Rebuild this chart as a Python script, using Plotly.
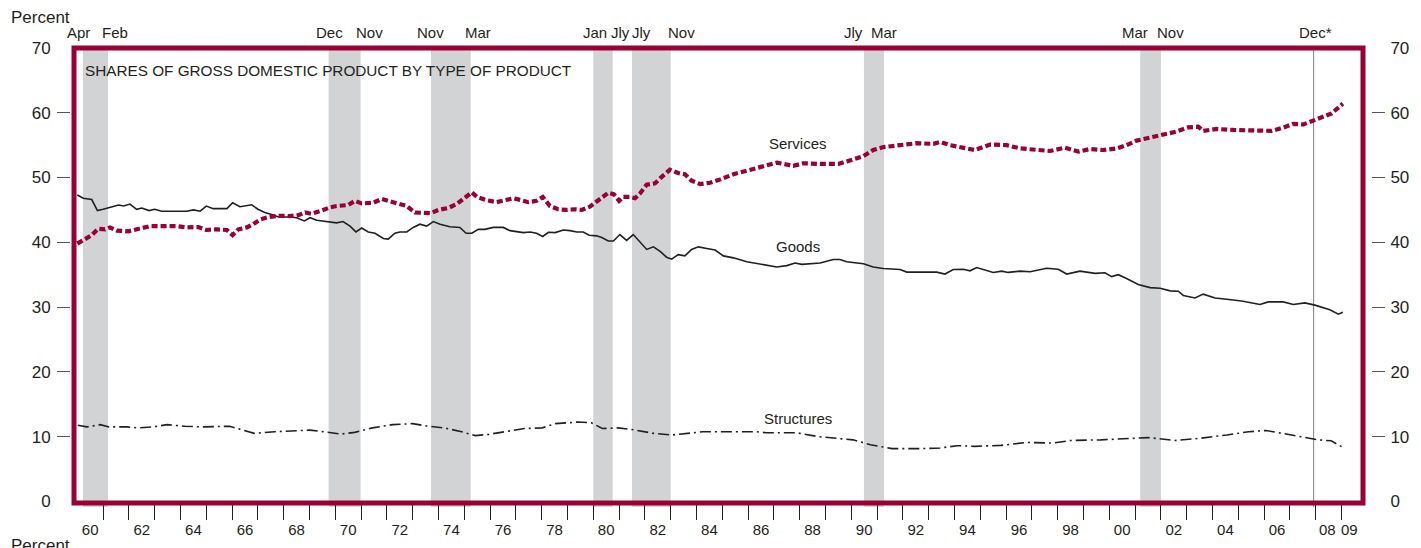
import plotly.graph_objects as go

# ---------------- data ----------------
goods_x = [1960.00, 1960.23, 1960.56, 1960.78, 1961.00, 1961.27, 1961.60, 1961.80, 1962.04, 1962.30,
           1962.50, 1962.78, 1963.00, 1963.27, 1963.60, 1963.85, 1964.24, 1964.50, 1964.76, 1965.00,
           1965.27, 1965.80, 1966.02, 1966.30, 1966.76, 1967.00, 1967.27, 1967.53, 1967.80, 1968.24,
           1968.50, 1968.80, 1969.02, 1969.28, 1969.80, 1970.05, 1970.30, 1970.57, 1970.80, 1971.02,
           1971.28, 1971.54, 1971.86, 1972.05, 1972.31, 1972.50, 1972.77, 1973.02, 1973.28, 1973.54,
           1973.80, 1974.06, 1974.44, 1974.83, 1975.07, 1975.29, 1975.54, 1975.80, 1976.12, 1976.51,
           1976.77, 1977.29, 1977.55, 1977.80, 1978.04, 1978.26, 1978.52, 1978.84, 1979.10, 1979.36,
           1979.61, 1979.84, 1980.13, 1980.33, 1980.58, 1980.78, 1981.03, 1981.29, 1981.55, 1981.81,
           1982.07, 1982.33, 1982.59, 1982.84, 1983.04, 1983.29, 1983.55, 1983.81, 1984.07, 1984.40,
           1984.72, 1985.04, 1985.43, 1985.95, 1986.46, 1987.11, 1987.50, 1987.82, 1988.08, 1988.79,
           1989.30, 1989.56, 1989.82, 1990.47, 1990.85, 1991.24, 1991.89, 1992.15, 1992.92, 1993.31,
           1993.63, 1993.95, 1994.34, 1994.60, 1994.86, 1995.50, 1995.83, 1996.08, 1996.54, 1996.93,
           1997.57, 1998.02, 1998.35, 1998.86, 1999.45, 1999.83, 2000.09, 2000.35, 2000.67, 2001.12,
           2001.58, 2001.97, 2002.36, 2002.67, 2002.87, 2003.32, 2003.64, 2004.10, 2004.55, 2005.13,
           2005.84, 2006.16, 2006.74, 2007.13, 2007.58, 2007.97, 2008.55, 2008.88, 2009.05]
goods_y = [47.3, 46.8, 46.6, 44.9, 45.1, 45.4, 45.75, 45.6, 45.9, 45.1,
           45.3, 44.9, 45.1, 44.8, 44.8, 44.7, 44.8, 45.0, 44.8, 45.6,
           45.2, 45.2, 46.1, 45.5, 45.8, 45.1, 44.6, 44.3, 43.9, 43.9,
           43.8, 43.3, 43.8, 43.4, 43.1, 43.0, 43.2, 42.5, 41.6, 42.2,
           41.6, 41.4, 40.6, 40.5, 41.4, 41.6, 41.6, 42.3, 42.8, 42.5,
           43.2, 42.8, 42.4, 42.3, 41.4, 41.4, 42.0, 42.0, 42.3, 42.3,
           41.8, 41.5, 41.6, 41.4, 40.9, 41.55, 41.5, 41.9, 41.8, 41.6,
           41.6, 41.1, 41.0, 40.75, 40.2, 40.2, 41.2, 40.3, 41.2, 40.1,
           38.9, 39.3, 38.6, 37.7, 37.4, 38.1, 37.9, 38.9, 39.3, 39.05,
           38.8, 37.9, 37.6, 37.0, 36.6, 36.2, 36.4, 36.8, 36.6, 36.8,
           37.35, 37.35, 37.0, 36.7, 36.2, 35.95, 35.8, 35.4, 35.4, 35.4,
           35.1, 35.8, 35.85, 35.6, 36.1, 35.35, 35.55, 35.35, 35.55, 35.45,
           36.0, 35.85, 35.1, 35.55, 35.2, 35.3, 34.7, 35.0, 34.4, 33.5,
           33.0, 32.9, 32.5, 32.45, 31.8, 31.4, 32.0, 31.4, 31.2, 30.95,
           30.4, 30.8, 30.8, 30.4, 30.65, 30.3, 29.6, 28.9, 29.2]

services_x = [1960.00, 1960.30, 1960.56, 1960.81, 1961.07, 1961.27, 1961.53, 1961.98, 1962.43, 1962.82,
              1963.46, 1963.85, 1964.24, 1964.69, 1965.00, 1965.40, 1965.80, 1966.02, 1966.24, 1966.57,
              1966.82, 1967.08, 1967.40, 1967.80, 1968.24, 1968.57, 1968.83, 1969.08, 1969.40, 1969.80,
              1970.05, 1970.50, 1970.76, 1971.02, 1971.47, 1971.80, 1972.05, 1972.44, 1972.77, 1973.09,
              1973.41, 1973.70, 1974.00, 1974.38, 1974.70, 1974.99, 1975.29, 1975.50, 1975.87, 1976.26,
              1976.58, 1976.90, 1977.22, 1977.48, 1977.80, 1978.04, 1978.32, 1978.64, 1978.97, 1979.29,
              1979.55, 1979.87, 1980.13, 1980.39, 1980.58, 1980.80, 1981.00, 1981.16, 1981.42, 1981.62,
              1981.81, 1982.07, 1982.39, 1982.65, 1982.97, 1983.29, 1983.55, 1983.81, 1984.14, 1984.52,
              1984.85, 1985.43, 1986.07, 1986.59, 1987.11, 1987.75, 1988.14, 1988.79, 1989.50, 1990.08,
              1990.47, 1990.85, 1991.24, 1991.89, 1992.53, 1993.18, 1993.44, 1993.83, 1994.34, 1994.79,
              1995.38, 1996.02, 1996.54, 1997.19, 1997.70, 1998.28, 1998.80, 1999.25, 1999.77, 2000.29,
              2000.67, 2001.06, 2001.58, 2002.09, 2002.61, 2003.06, 2003.45, 2003.64, 2004.16, 2004.81,
              2005.71, 2006.29, 2006.74, 2007.13, 2007.52, 2007.91, 2008.29, 2008.62, 2009.05]
services_y = [39.8, 40.6, 41.1, 42.1, 42.0, 42.3, 41.8, 41.7, 42.1, 42.5,
              42.5, 42.5, 42.3, 42.35, 41.9, 42.0, 41.9, 41.1, 42.0, 42.3,
              42.8, 43.5, 43.9, 44.1, 44.05, 44.2, 44.6, 44.4, 44.8, 45.4,
              45.6, 45.75, 46.4, 46.0, 46.1, 46.7, 46.4, 45.9, 45.6, 44.6,
              44.6, 44.5, 45.0, 45.3, 45.9, 46.8, 47.7, 47.0, 46.5, 46.2,
              46.5, 46.8, 46.5, 46.2, 46.4, 47.0, 45.6, 45.1, 45.0, 45.1,
              45.0, 45.5, 46.3, 47.1, 47.65, 47.4, 46.4, 47.0, 47.0, 46.8,
              47.55, 48.9, 49.1, 50.1, 51.2, 50.7, 50.5, 49.5, 49.0, 49.2,
              49.6, 50.5, 51.2, 51.8, 52.3, 51.8, 52.2, 52.1, 52.1, 52.8,
              53.3, 54.25, 54.7, 55.0, 55.3, 55.2, 55.5, 55.0, 54.6, 54.25,
              55.1, 55.0, 54.5, 54.25, 54.1, 54.6, 54.0, 54.4, 54.25, 54.5,
              55.0, 55.7, 56.2, 56.7, 57.1, 57.75, 57.85, 57.2, 57.5, 57.35,
              57.35, 57.2, 57.7, 58.3, 58.2, 58.8, 59.4, 59.9, 61.4]

structures_x = [1960.02, 1960.37, 1960.89, 1961.23, 1961.93, 1962.35, 1962.96, 1963.48, 1964.17, 1964.87,
                1965.90, 1966.42, 1966.86, 1967.64, 1968.32, 1969.02, 1969.54, 1970.23, 1970.75, 1971.44,
                1972.22, 1973.00, 1973.52, 1974.21, 1974.90, 1975.42, 1975.94, 1976.63, 1977.33, 1978.02,
                1978.53, 1979.40, 1979.92, 1980.35, 1980.96, 1981.65, 1982.34, 1983.03, 1983.55, 1984.25,
                1985.28, 1986.32, 1986.69, 1987.88, 1988.71, 1989.56, 1990.07, 1990.74, 1991.58, 1992.76,
                1993.44, 1994.11, 1994.79, 1995.80, 1996.81, 1997.82, 1998.49, 1999.67, 2000.85, 2001.53,
                2002.54, 2003.55, 2004.56, 2005.40, 2006.07, 2006.75, 2007.59, 2008.10, 2008.60, 2009.05]
structures_y = [11.75, 11.5, 11.85, 11.5, 11.5, 11.35, 11.5, 11.85, 11.6, 11.5,
                11.6, 11.0, 10.5, 10.75, 10.85, 11.0, 10.75, 10.4, 10.65, 11.35,
                11.85, 12.0, 11.65, 11.35, 10.75, 10.15, 10.35, 10.75, 11.25, 11.35,
                12.0, 12.25, 12.15, 11.25, 11.35, 11.0, 10.5, 10.25, 10.5, 10.75,
                10.75, 10.75, 10.6, 10.6, 10.0, 9.65, 9.5, 8.75, 8.15, 8.15,
                8.25, 8.6, 8.5, 8.65, 9.1, 9.0, 9.4, 9.5, 9.75, 9.85,
                9.4, 9.75, 10.25, 10.75, 10.95, 10.5, 9.85, 9.5, 9.35, 8.35]

# recessions (decimal years) and their month labels
recession_start = [1960.22, 1969.74, 1973.71, 1980.00, 1981.50, 1990.49, 2001.20]
recession_end = [1961.19, 1970.98, 1975.25, 1980.75, 1983.00, 1991.27, 2002.00]
month_labels = ["Apr", "Feb", "Dec", "Nov", "Nov", "Mar", "Jan", "Jly", "Jly", "Nov",
                "Jly", "Mar", "Mar", "Nov", "Dec*"]
month_label_x = [1960.03, 1961.46, 1969.79, 1971.34, 1973.70, 1975.53, 1980.05, 1981.04, 1981.85, 1983.40,
                 1990.10, 1991.25, 2001.00, 2002.36, 2008.00]
peak_line_x = 2007.92

year_tick_vals = list(range(1961, 2010))
year_label_vals = [y + 0.5 for y in range(1960, 2008, 2)] + [2008.45, 2009.3]
year_label_text = [f"{y % 100:02d}" for y in range(1960, 2008, 2)] + ["08", "09"]

y_label_vals = [0, 10, 20, 30, 40, 50, 60, 70]
y_tick_vals = [10, 20, 30, 40, 50, 60]

series_labels = ["Services", "Goods", "Structures"]
series_label_x = [1987.93, 1987.93, 1987.93]
series_label_y = [55.2, 39.4, 12.8]

title_text = "SHARES OF GROSS DOMESTIC PRODUCT BY TYPE OF PRODUCT"

# ---------------- style ----------------
W, H = 1421, 548
ML, MR, MT, MB = 70, 50, 48, 45
PW = W - ML - MR
PH = H - MT - MB
FRAME_L, FRAME_R = 74, 1363
XDOM = [(FRAME_L - ML) / PW, (FRAME_R - ML) / PW]
XR = [1959.872, 2009.833]
YR = [-0.25, 70]
RED = "#990033"
INK = "#231f20"
GRAY = "#d1d3d4"
FONT = "Liberation Sans, Arial, Helvetica, sans-serif"


def py(p):
    return (H - MB - p) / PH


def px(p):
    return (p - ML) / PW


fig = go.Figure()

fig.add_trace(go.Scatter(x=goods_x, y=goods_y, mode="lines",
                         line=dict(color=INK, width=1.6), hoverinfo="skip", showlegend=False))
fig.add_trace(go.Scatter(x=structures_x, y=structures_y, mode="lines",
                         line=dict(color=INK, width=1.6, dash="11px,4px,2px,4px"),
                         hoverinfo="skip", showlegend=False))
fig.add_trace(go.Scatter(x=services_x, y=services_y, mode="lines",
                         line=dict(color=RED, width=4.2, dash="6px,3px"),
                         hoverinfo="skip", showlegend=False))
# dummy traces so the helper axes are drawn
for xa, ya in [("x2", "y"), ("x", "y2"), ("x", "y3"), ("x", "y4")]:
    fig.add_trace(go.Scatter(x=[None], y=[None], xaxis=xa, yaxis=ya, mode="lines",
                             hoverinfo="skip", showlegend=False))

shapes = []
for s, e in zip(recession_start, recession_end):
    shapes.append(dict(type="rect", xref="x", yref="paper", x0=s, x1=e, y0=py(507), y1=1,
                       fillcolor=GRAY, line=dict(width=0), layer="below"))
shapes.append(dict(type="line", xref="x", yref="paper", x0=peak_line_x, x1=peak_line_x,
                   y0=py(507), y1=1, line=dict(color="#808080", width=1), layer="below"))
shapes.append(dict(type="rect", xref="x domain", yref="y domain", x0=0, x1=1, y0=0, y1=1,
                   line=dict(color=RED, width=5), fillcolor="rgba(0,0,0,0)", layer="above"))

annotations = []
for t, x in zip(month_labels, month_label_x):
    annotations.append(dict(text=t, x=x, xref="x", y=py(33), yref="paper", showarrow=False,
                            xanchor="center", yanchor="middle", font=dict(size=15, color=INK, family=FONT)))
for t, x, y in zip(series_labels, series_label_x, series_label_y):
    annotations.append(dict(text=t, x=x, y=y, xref="x", yref="y", showarrow=False,
                            xanchor="center", yanchor="middle", font=dict(size=15, color=INK, family=FONT)))
annotations.append(dict(text=title_text, x=(83 - FRAME_L) / (FRAME_R - FRAME_L), xref="x domain",
                        y=py(70), yref="paper", showarrow=False, xanchor="left", yanchor="middle",
                        font=dict(size=15.3, color=INK, family=FONT)))
annotations.append(dict(text="Percent", x=px(9), xref="paper", y=py(17), yref="paper", showarrow=False,
                        xanchor="left", yanchor="middle", font=dict(size=17, color=INK, family=FONT)))
annotations.append(dict(text="Percent", x=px(9), xref="paper", y=py(545), yref="paper", showarrow=False,
                        xanchor="left", yanchor="middle", font=dict(size=17, color=INK, family=FONT)))

common_y = dict(range=YR, showgrid=False, zeroline=False, showline=False, fixedrange=True,
                automargin=False)

fig.update_layout(
    width=W, height=H, autosize=False,
    margin=dict(l=ML, r=MR, t=MT, b=MB, pad=0, autoexpand=False),
    paper_bgcolor="white", plot_bgcolor="white",
    font=dict(family=FONT, color=INK, size=17),
    showlegend=False,
    xaxis=dict(domain=XDOM, range=XR, tickmode="array", tickvals=year_tick_vals, ticks="outside",
               ticklen=16, tickwidth=1, tickcolor=INK, showticklabels=False, automargin=False,
               showgrid=False, zeroline=False, showline=False, fixedrange=True),
    xaxis2=dict(domain=XDOM, range=XR, overlaying="x", anchor="y", side="bottom", tickmode="array",
                tickvals=year_label_vals, ticktext=year_label_text, ticks="outside", ticklen=13,
                tickcolor="rgba(0,0,0,0)", tickfont=dict(size=15, color=INK, family=FONT),
                automargin=False, showgrid=False, zeroline=False, showline=False, fixedrange=True),
    yaxis=dict(**common_y, anchor="free", position=0, side="left", tickmode="array",
               tickvals=y_label_vals, ticks="outside", ticklen=16, tickcolor="rgba(0,0,0,0)",
               tickfont=dict(size=17, color=INK, family=FONT)),
    yaxis2=dict(**common_y, overlaying="y", anchor="free", position=1, side="right", tickmode="array",
                tickvals=y_label_vals, ticks="outside", ticklen=15, tickcolor="rgba(0,0,0,0)",
                tickfont=dict(size=17, color=INK, family=FONT)),
    yaxis3=dict(**common_y, overlaying="y", anchor="free", position=0, side="left", tickmode="array",
                tickvals=y_tick_vals, ticks="outside", ticklen=13, tickwidth=1, tickcolor="#555555",
                showticklabels=False),
    yaxis4=dict(**common_y, overlaying="y", anchor="free", position=1, side="right", tickmode="array",
                tickvals=y_tick_vals, ticks="outside", ticklen=13, tickwidth=1, tickcolor="#555555",
                showticklabels=False),
    shapes=shapes,
    annotations=annotations,
)

fig.write_html("out.html", config={"displayModeBar": False, "responsive": False},
               post_script="document.body.style.margin='0';document.body.style.overflow='hidden';")
